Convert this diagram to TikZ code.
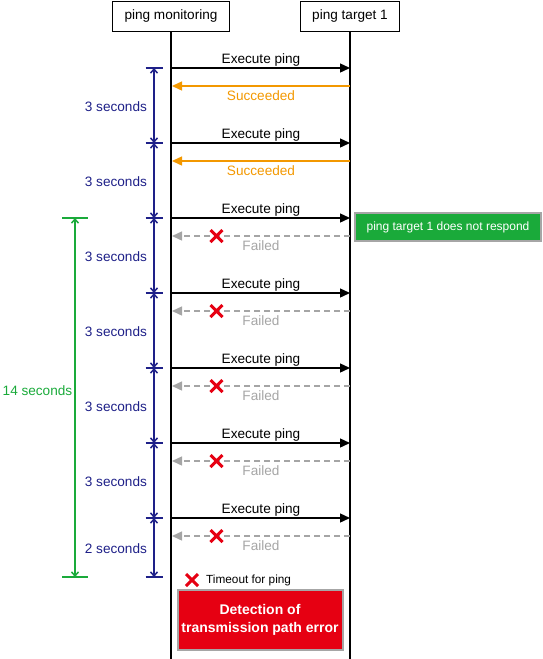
\documentclass[tikz,border=0pt]{standalone}
\usepackage{fontspec}
\setmainfont{Liberation Sans}
\usetikzlibrary{arrows.meta,positioning,calc}
\definecolor{spanblue}{RGB}{30,32,136}
\definecolor{okorange}{RGB}{243,152,0}
\definecolor{spangreen}{RGB}{26,170,58}
\definecolor{errred}{RGB}{230,0,18}
\definecolor{failgray}{RGB}{165,165,165}
\newcommand{\failmark}[1]{\draw[failx] ($(#1)+(-6,-6)$) -- ($(#1)+(6,6)$) ($(#1)+(-6,6)$) -- ($(#1)+(6,-6)$);}

\begin{document}
\begin{tikzpicture}[x=1pt,y=-1pt,font=\fontsize{13.6}{16}\selectfont,
  head/.style={draw,line width=0.8pt,minimum height=30pt,inner sep=0pt},
  lifeline/.style={line width=1.6pt},
  ping/.style={line width=1.4pt,-{Triangle[length=10pt,width=9pt]}},
  okreply/.style={okorange,line width=1.4pt,-{Triangle[length=10pt,width=9pt]}},
  failreply/.style={failgray,line width=1.4pt,dash pattern=on 6pt off 4pt,-{Triangle[length=10pt,width=9pt]}},
  failx/.style={errred,line width=3pt},
  spanline/.style={line width=1.5pt,{Straight Barb[length=4pt,width=7pt]}-{Straight Barb[length=4pt,width=7pt]}},
  spantick/.style={line width=1.5pt},
  alertbox/.style={draw=gray!70,line width=2pt,text=white,align=center}]
\useasboundingbox (0,0) rectangle (543,659);
% lifelines
\node[head,minimum width=117pt] (mon) at (171,16) {ping monitoring};
\node[head,minimum width=99pt] (tgt) at (350,16) {ping target 1};
\draw[lifeline] (mon.south) -- ++(0,628);
\draw[lifeline] (tgt.south) -- ++(0,628);
% messages
\foreach \i in {0,...,6}{
  \coordinate (send-\i) at (172,68+75*\i);
  \coordinate (recv-\i) at (350,68+75*\i);
  \coordinate (back-\i) at (350,86+75*\i);
  \coordinate (home-\i) at (172,86+75*\i);
  \draw[ping] (send-\i) -- node[above,inner sep=0.5pt]{Execute ping} (recv-\i);
}
\foreach \i in {0,1}
  \draw[okreply] (back-\i) -- node[below,text=okorange,inner sep=3.5pt]{Succeeded} (home-\i);
\foreach \i in {2,...,6}{
  \draw[failreply] (back-\i) -- node[below,text=failgray,inner sep=3.5pt]{Failed} (home-\i);
  \failmark{$(home-\i)!0.25!(back-\i)$}
}
% 3 seconds spans
\foreach \y [count=\k] in {68,143,218,293,368,443,518,577}
  \coordinate (dt-\k) at (154,\y);
\foreach \k in {1,...,8}
  \draw[spanblue,spantick] ($(dt-\k)+(-8.5,0)$) -- ($(dt-\k)+(8.5,0)$);
\foreach \a/\b/\t in {1/2/3,2/3/3,3/4/3,4/5/3,5/6/3,6/7/3,7/8/2}
  \draw[spanblue,spanline] (dt-\a) -- node[left,xshift=-3pt,yshift=-1.5pt,text=spanblue]{\t\ seconds} (dt-\b);
% 14 seconds span
\coordinate (gt-1) at (75,218);
\coordinate (gt-2) at (75,577);
\foreach \k in {1,2}
  \draw[spangreen,spantick] ($(gt-\k)+(-13,0)$) -- ($(gt-\k)+(13,0)$);
\draw[spangreen,spanline] (gt-1) -- node[left,pos=0.48,text=spangreen,inner sep=2pt]{14 seconds} (gt-2);
% notes
\node[alertbox,fill=spangreen,minimum width=186pt,minimum height=28pt,font=\fontsize{12}{14}\selectfont] (noresp) at (448,227) {ping target 1 does not respond};
\coordinate (legendx) at (192,580);
\failmark{legendx}
\node[right=14pt of legendx,inner sep=0pt,font=\fontsize{11.8}{13}\selectfont] (legend) {Timeout for ping};
\node[alertbox,fill=errred,minimum width=165pt,minimum height=60pt,font=\fontsize{14}{18}\selectfont\bfseries] (detect) at (260,620) {Detection of\\transmission path error};
\end{tikzpicture}
\end{document}
